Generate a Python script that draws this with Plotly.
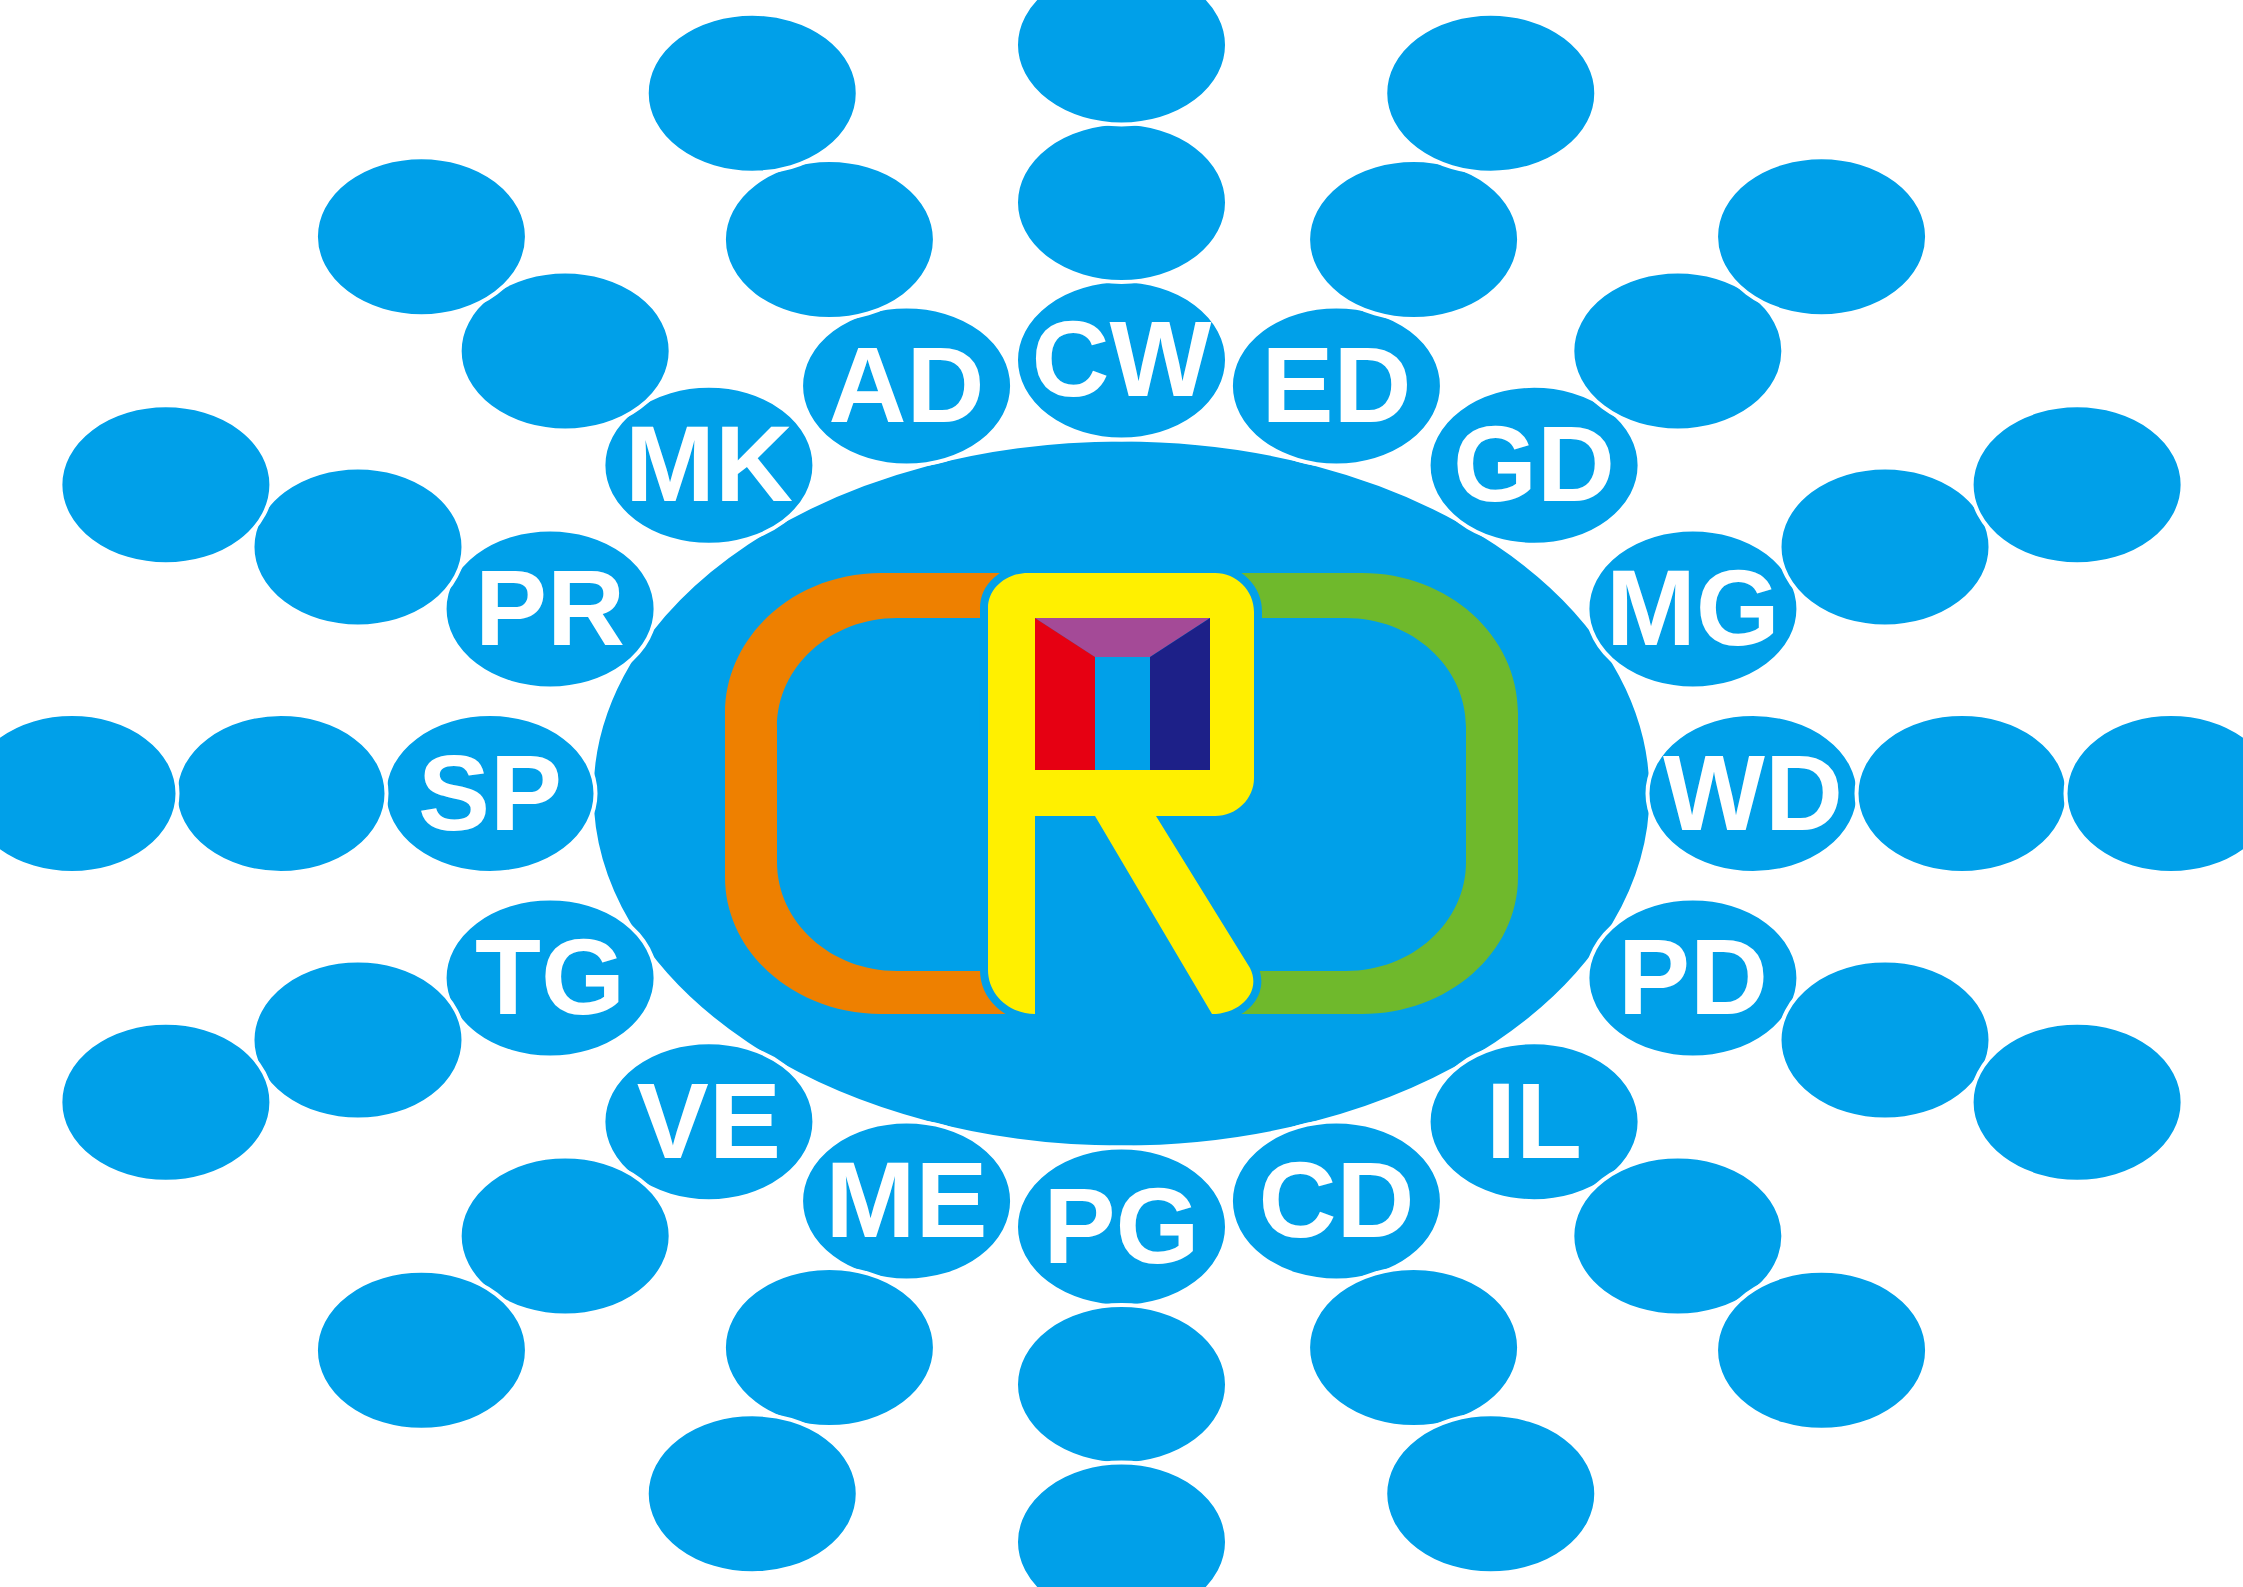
import math
import plotly.graph_objects as go

# ---------------- data ----------------
W, H = 2243, 1587
labels = ["CW", "ED", "GD", "MG", "WD", "PD", "IL", "CD",
          "PG", "ME", "VE", "TG", "SP", "PR", "MK", "AD"]
# direction of each ray, degrees clockwise from "up"
ray_angle_deg = [0, 27.8, 51.5, 72.1, 90, 107.9, 128.5, 152.2,
                 180, 207.8, 231.5, 252.1, 270, 287.9, 308.5, 332.2]
extra_bubbles = [2] * 16

# ---------------- styles / geometry ----------------
BLUE = "#00A0E9"
ORANGE = "#EE8000"
GREEN = "#6FB92C"
YELLOW = "#FFF000"
RED = "#E60012"
NAVY = "#1D2088"
PURPLE = "#A44A97"
WHITE = "#FFFFFF"

CX, CY = W / 2, H / 2
RING_A, RING_B = 631.5, 433.5
BUB_RX, BUB_RY = 105.5, 79.5          # drawn size (white rim eats 2px)
STEP_RX, STEP_RY = 104.5, 78.75       # spacing of chained bubbles
CORE_RX, CORE_RY = 530, 354
TEXT_DY = 9
K = 0.5523

shapes = []


def ellipse(x, y, rx, ry, color=BLUE, lw=4):
    shapes.append(dict(type="circle", xref="x", yref="y", layer="below",
                       x0=x - rx, x1=x + rx, y0=y - ry, y1=y + ry,
                       fillcolor=color, line=dict(color=WHITE, width=lw)))


def path(d, fill, line_color=None, lw=0):
    s = dict(type="path", xref="x", yref="y", layer="below", path=d,
             fillcolor=fill)
    if line_color:
        s["line"] = dict(color=line_color, width=lw)
    else:
        s["line"] = dict(width=0)
    shapes.append(s)


def cV(x0, y0, x1, y1):
    # corner: start moving vertically, end moving horizontally
    return (f" C {x0},{y0 + K * (y1 - y0)} {x1 + K * (x0 - x1)},{y1} {x1},{y1}")


def cH(x0, y0, x1, y1):
    # corner: start moving horizontally, end moving vertically
    return (f" C {x0 + K * (x1 - x0)},{y0} {x1},{y1 + K * (y0 - y1)} {x1},{y1}")


# central ellipse
ellipse(CX, CY, CORE_RX, CORE_RY)

# label bubbles + chains
tx, ty = [], []
for lab, ang, n in zip(labels, ray_angle_deg, extra_bubbles):
    t = math.radians(ang)
    ux, uy = math.sin(t), -math.cos(t)
    r = 1 / math.sqrt((ux / RING_A) ** 2 + (uy / RING_B) ** 2)
    step = 2 / math.sqrt((ux / STEP_RX) ** 2 + (uy / STEP_RY) ** 2)
    x, y = CX + r * ux, CY + r * uy
    tx.append(x)
    ty.append(y + TEXT_DY)
    ellipse(x, y, BUB_RX, BUB_RY)
    for i in range(1, n + 1):
        ellipse(x + i * step * ux, y + i * step * uy, BUB_RX, BUB_RY)


# ---- brackets ----
def bracket(m):
    X = (lambda v: v) if m == 1 else (lambda v: W - v)
    d = f"M {X(1040)},573 L {X(881)},573"
    d += cH(X(881), 573, X(725), 713)
    d += f" L {X(725)},877"
    d += cV(X(725), 877, X(881), 1014)
    d += f" L {X(1040)},1014 L {X(1040)},971 L {X(897)},971"
    d += cH(X(897), 971, X(777), 862)
    d += f" L {X(777)},727"
    d += cV(X(777), 727, X(897), 618)
    d += f" L {X(1040)},618 Z"
    return d


path(bracket(1), ORANGE)
path(bracket(-1), GREEN)

# ---- R ----
R = "M 988,608"
R += cV(988, 608, 1028, 573)
R += " L 1215,573"
R += cH(1215, 573, 1254, 612)
R += " L 1254,778"
R += cV(1254, 778, 1215, 816)
R += " L 1156,816 L 1250,968"
R += " C 1262,992 1240,1014 1212,1014"
R += " L 1095,816 L 1035,816 L 1035,1014"
R += cH(1035, 1014, 988, 970)
R += " Z"
path(R, BLUE, BLUE, 16)
path(R, YELLOW)

# window
path("M 1035,618 L 1210,618 L 1210,770 L 1035,770 Z", BLUE)
path("M 1035,618 L 1210,618 L 1150,657 L 1095,657 Z", PURPLE)
path("M 1035,618 L 1095,657 L 1095,770 L 1035,770 Z", RED)
path("M 1210,618 L 1210,770 L 1150,770 L 1150,657 Z", NAVY)

fig = go.Figure()
fig.add_trace(go.Scatter(
    x=tx, y=ty, text=labels, mode="text",
    textposition="middle center",
    textfont=dict(family="Arial", size=108, color=WHITE, weight=700),
    hoverinfo="skip", showlegend=False))

fig.update_layout(
    width=W, height=H, autosize=False,
    margin=dict(l=0, r=0, t=0, b=0, pad=0),
    paper_bgcolor=WHITE, plot_bgcolor=WHITE,
    shapes=shapes,
    xaxis=dict(range=[0, W], visible=False, fixedrange=True),
    yaxis=dict(range=[H, 0], visible=False, fixedrange=True),
    showlegend=False,
)
fig.write_html("out.html",
               config={"displayModeBar": False, "staticPlot": True},
               post_script="document.body.style.margin='0';"
                           "document.body.style.padding='0';")
